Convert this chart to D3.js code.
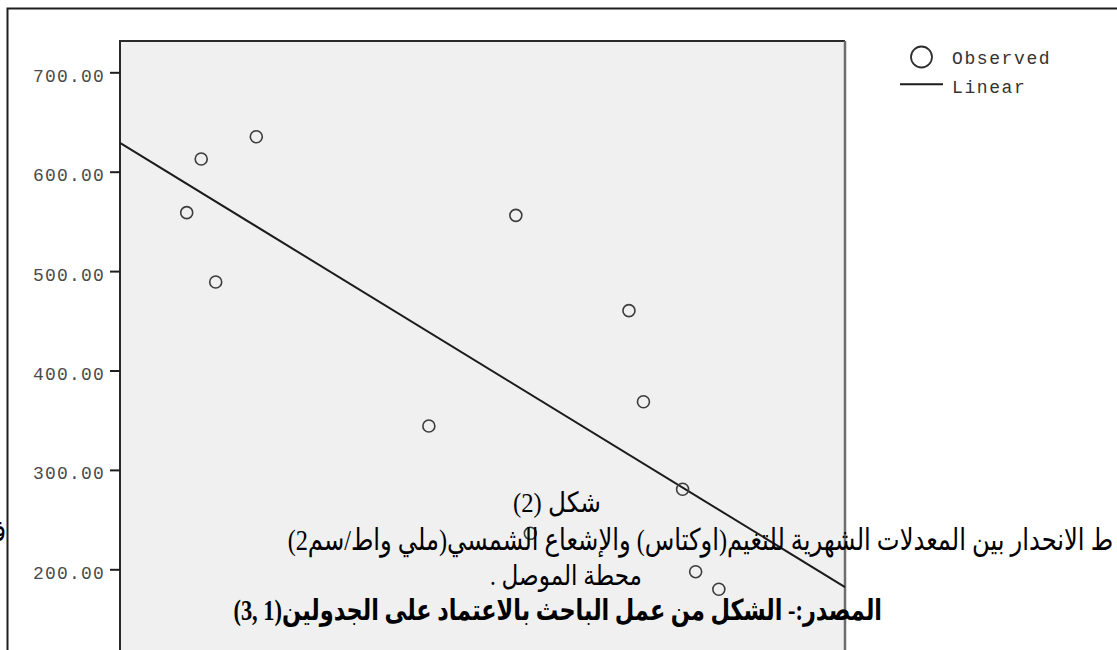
<!DOCTYPE html>
<html>
<head>
<meta charset="utf-8">
<script src="https://cdn.jsdelivr.net/npm/d3@7"></script>
<style>
  html, body { margin: 0; padding: 0; background: #fff; overflow: hidden; }
  svg { display: block; }
</style>
</head>
<body>
<svg id="chart" width="1117" height="650"></svg>
<script>
// Monthly cloud cover (oktas) and solar radiation (mW/cm2), Mosul station
const cloudCover     = [0.46, 0.56, 0.66, 0.94, 2.13, 2.73, 2.83, 3.51, 3.61, 3.88, 3.97, 4.13];
const solarRadiation = [558.8, 612.8, 489.0, 635.2, 344.2, 556.1, 236.2, 460.2, 368.6, 280.5, 197.6, 179.9];

const xDomain = [0, 5];
const yDomain = [200, 700];
const yTicks  = [200, 300, 400, 500, 600, 700];

const legendLabels = ["Observed", "Linear"];

const captionTitle  = "شكل (2)";
const captionLead   = "مخطط ";
const captionMain   = "ط الانحدار بين المعدلات الشهرية للتغيم(اوكتاس) والإشعاع الشمسي(ملي واط/سم2)";
const captionTail   = "في";
const captionPlace  = "محطة الموصل .";
const captionSource = "المصدر:- الشكل من عمل الباحث بالاعتماد على الجدولين(1 ,3)";

const svg = d3.select("#chart");
const W = 1117, H = 650;

// plot frame
const frame = { left: 120, top: 41, right: 845, bottom: 700 };

const x = d3.scaleLinear().domain(xDomain).range([frame.left, frame.right]);
const y = d3.scaleLinear().domain(yDomain).range([569.3, 72.3]);

// outer chart border (top and left visible)
svg.append("path")
  .attr("d", `M7.5,${H} V8.5 H${W}`)
  .attr("fill", "none")
  .attr("stroke", "#1e1e1e")
  .attr("stroke-width", 2);

// plot background
svg.append("rect")
  .attr("x", frame.left).attr("y", frame.top)
  .attr("width", frame.right - frame.left)
  .attr("height", frame.bottom - frame.top)
  .attr("fill", "#f0f0f0");

// plot borders
svg.append("path")
  .attr("d", `M${frame.left},${H} V${frame.top} H${frame.right}`)
  .attr("fill", "none").attr("stroke", "#2a2a2a").attr("stroke-width", 2);
svg.append("line")
  .attr("x1", frame.right).attr("x2", frame.right)
  .attr("y1", frame.top).attr("y2", H)
  .attr("stroke", "#6e6e6e").attr("stroke-width", 2.5);

// y axis
const yAxis = d3.axisLeft(y)
  .tickValues(yTicks)
  .tickFormat(d3.format(".2f"))
  .tickSize(10)
  .tickPadding(5);

const gy = svg.append("g")
  .attr("transform", `translate(${frame.left},0)`)
  .call(yAxis);
gy.select(".domain").remove();
gy.selectAll(".tick line").attr("stroke", "#1e1e1e").attr("stroke-width", 2);
gy.selectAll(".tick text")
  .attr("font-family", "'Liberation Mono', 'DejaVu Sans Mono', monospace")
  .attr("font-size", 18)
  .attr("letter-spacing", "1.2px")
  .attr("fill", "#4a4a4a")
  .attr("dy", "0.5em");

// least-squares linear fit
const mx = d3.mean(cloudCover), my = d3.mean(solarRadiation);
const sxy = d3.sum(cloudCover, (v, i) => (v - mx) * (solarRadiation[i] - my));
const sxx = d3.sum(cloudCover, v => (v - mx) * (v - mx));
const slope = sxy / sxx;
const intercept = my - slope * mx;
const fitLine = xDomain.map(v => [v, intercept + slope * v]);

svg.append("path")
  .datum(fitLine)
  .attr("d", d3.line().x(d => x(d[0])).y(d => y(d[1])))
  .attr("fill", "none")
  .attr("stroke", "#1c1c1c")
  .attr("stroke-width", 2);

// observed points
svg.append("g")
  .selectAll("circle")
  .data(cloudCover.map((v, i) => [v, solarRadiation[i]]))
  .join("circle")
  .attr("cx", d => x(d[0]))
  .attr("cy", d => y(d[1]))
  .attr("r", 6)
  .attr("fill", "none")
  .attr("stroke", "#3c3c3c")
  .attr("stroke-width", 1.6);

// legend
const legend = svg.append("g");
legend.append("circle")
  .attr("cx", 921.5).attr("cy", 57).attr("r", 10.5)
  .attr("fill", "none").attr("stroke", "#2e2e2e").attr("stroke-width", 1.8);
legend.append("line")
  .attr("x1", 900).attr("x2", 943).attr("y1", 84.3).attr("y2", 84.3)
  .attr("stroke", "#1c1c1c").attr("stroke-width", 2);
legend.selectAll("text")
  .data(legendLabels)
  .join("text")
  .attr("x", 952)
  .attr("y", (d, i) => i === 0 ? 63.5 : 92.5)
  .attr("font-family", "'Liberation Mono', 'DejaVu Sans Mono', monospace")
  .attr("font-size", 18)
  .attr("letter-spacing", "1.6px")
  .attr("fill", "#333")
  .text(d => d);

// caption text
const capFont = "'Liberation Serif', 'DejaVu Sans', serif";

function addCaption(str, baseline, size, bold) {
  return svg.append("text")
    .attr("x", 0).attr("y", baseline)
    .attr("direction", "rtl")
    .attr("text-anchor", "start")
    .style("font-family", capFont)
    .style("font-size", size + "px")
    .style("font-weight", bold ? "bold" : "normal")
    .attr("fill", "#000")
    .text(str);
}

// squeeze a caption horizontally so it spans [x0, x1]
function fitSpan(t, x0, x1) {
  const b = t.node().getBBox();
  const sx = (x1 - x0) / b.width;
  t.attr("transform", `translate(${x0 - sx * b.x},0) scale(${sx},1)`);
}

fitSpan(addCaption(captionTitle, 512, 28, false), 513, 601);
fitSpan(addCaption(captionPlace, 585, 28, false), 490, 642);
fitSpan(addCaption(captionSource, 620, 29, true), 233, 882);

// long caption line running past both edges of the page
{
  const size = 30;
  const probe = addCaption(captionMain, 550, size, false);
  const sx = (1113 - 287) / probe.node().getBBox().width;
  probe.remove();

  const t = addCaption(captionLead + captionMain, 550, size, false);
  const b = t.node().getBBox();
  t.attr("transform", `translate(${287 - sx * b.x},0) scale(${sx},1)`);

  const tail = addCaption(captionTail, 541, size, false);
  const bt = tail.node().getBBox();
  tail.attr("transform", `translate(${6 - sx * (bt.x + bt.width)},0) scale(${sx},1)`);
}
</script>
</body>
</html>
